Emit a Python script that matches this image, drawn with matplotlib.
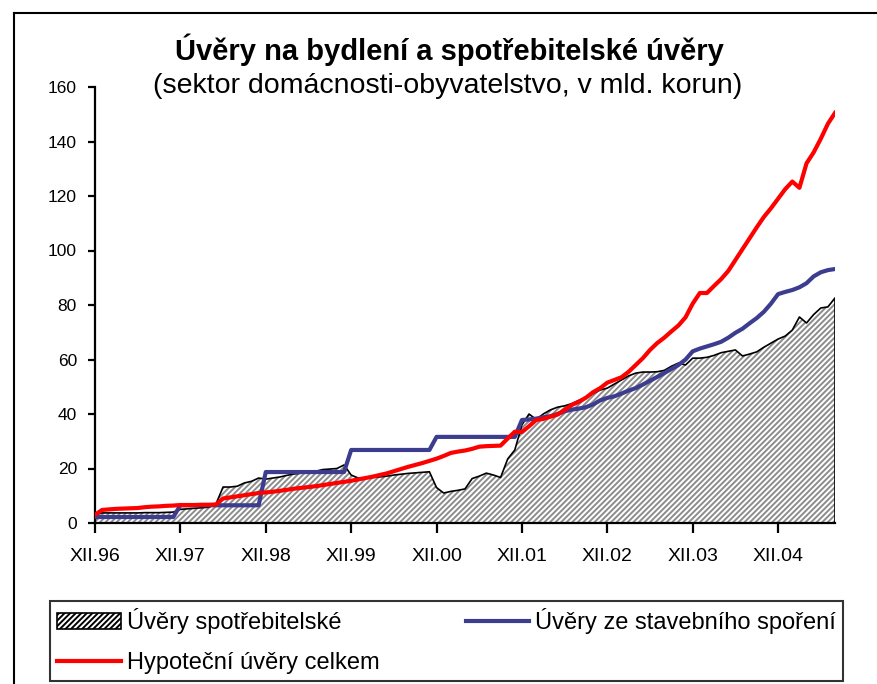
import numpy as np
import matplotlib
matplotlib.use("Agg")
import matplotlib.pyplot as plt
from matplotlib.lines import Line2D
from matplotlib.patches import Patch

plt.rcParams['font.family'] = ['Liberation Sans', 'DejaVu Sans']
plt.rcParams['hatch.linewidth'] = 1.4

# ---- data (mld. Kč, monthly from XII.96) ----
spotrebitelske = [
    3.0, 3.7, 3.7, 3.7, 3.7, 3.7, 3.7, 3.8, 3.8, 3.8, 3.9, 4.0,
    5.0, 5.2, 5.4, 5.6, 5.8, 7.0, 13.2, 13.2, 13.5, 14.7, 15.3, 16.5,
    16.1, 16.5, 16.9, 17.5, 18.0, 18.3, 18.5, 19.0, 19.6, 19.8, 20.0, 21.3,
    17.6, 16.5, 16.5, 16.7, 16.9, 17.2, 17.6, 17.9, 18.2, 18.4, 18.6, 18.8,
    13.0, 11.0, 11.6, 12.0, 12.5, 16.3, 17.2, 18.3, 17.6, 16.7, 23.5, 26.8,
    36.0, 40.0, 38.0, 40.0, 41.5, 42.5, 43.0, 43.8, 45.0, 46.0, 47.5, 48.8,
    49.5, 51.0, 52.5, 54.0, 55.0, 55.4, 55.4, 55.5, 56.0, 57.5, 58.7, 58.0,
    60.5, 60.5, 60.8, 61.5, 62.5, 63.0, 63.5, 61.3, 62.0, 62.8, 64.5, 66.0,
    67.5, 68.6, 70.8, 75.6, 73.4, 76.5, 78.9, 79.3, 82.6,
]
stavebni = [
    2.2, 2.2, 2.2, 2.2, 2.2, 2.2, 2.2, 2.2, 2.2, 2.2, 2.2, 2.2,
    6.5, 6.5, 6.5, 6.5, 6.5, 6.5, 6.5, 6.5, 6.5, 6.5, 6.5, 6.5,
    18.7, 18.7, 18.7, 18.7, 18.7, 18.7, 18.7, 18.7, 18.7, 18.7, 18.7, 18.7,
    26.8, 26.8, 26.8, 26.8, 26.8, 26.8, 26.8, 26.8, 26.8, 26.8, 26.8, 26.8,
    31.6, 31.6, 31.6, 31.6, 31.6, 31.6, 31.6, 31.6, 31.6, 31.6, 31.6, 31.6,
    37.8, 38.0, 38.3, 38.8, 39.2, 40.0, 41.0, 41.6, 42.0, 42.5, 43.5, 45.0,
    45.9, 46.5, 47.5, 48.6, 49.5, 50.8, 52.2, 53.6, 55.0, 56.5, 58.0, 60.0,
    63.0, 64.0, 64.8, 65.6, 66.5, 68.0, 69.8, 71.3, 73.3, 75.2, 77.5, 80.5,
    84.0, 84.8, 85.5, 86.5, 88.0, 90.5, 92.0, 92.8, 93.2,
]
hypotecni = [
    3.0, 4.8, 5.0, 5.2, 5.3, 5.4, 5.5, 5.8, 6.0, 6.1, 6.3, 6.4,
    6.6, 6.6, 6.6, 6.7, 6.7, 6.8, 9.0, 9.4, 9.8, 10.2, 10.6, 11.0,
    11.2, 11.5, 11.8, 12.2, 12.6, 12.9, 13.2, 13.5, 13.9, 14.3, 14.7, 15.1,
    15.5, 16.0, 16.5, 17.0, 17.6, 18.2, 19.0, 19.8, 20.6, 21.3, 22.0, 22.8,
    23.6, 24.6, 25.7, 26.2, 26.6, 27.2, 28.0, 28.2, 28.3, 28.4, 31.0, 33.5,
    33.4, 35.5, 37.8, 38.2, 39.0, 39.8, 41.5, 43.3, 44.5, 46.0, 48.0, 49.5,
    51.5, 52.5, 53.5, 55.5, 58.0, 60.5, 63.5, 66.0, 68.0, 70.3, 72.5, 75.5,
    80.5, 84.4, 84.4, 87.0, 89.5, 92.5, 96.5, 100.5, 104.5, 108.5, 112.3, 115.5,
    119.0, 122.5, 125.3, 123.0, 132.0, 136.0, 141.0, 146.5, 150.5,
]
tick_labels = ['XII.96', 'XII.97', 'XII.98', 'XII.99', 'XII.00',
               'XII.01', 'XII.02', 'XII.03', 'XII.04']

x = np.arange(len(spotrebitelske))
spotr = np.array(spotrebitelske)

fig = plt.figure(figsize=(8.77, 6.84), dpi=100)
ax = fig.add_axes([95 / 877, 1 - 523 / 684, 740 / 877, 436 / 684])

# plocha se šrafováním
ax.fill_between(x, 0, spotr, facecolor='white', edgecolor='#8c8c8c',
                hatch='//////', linewidth=0, zorder=1)
ax.plot(np.append(x, x[-1]), np.append(spotr, 0), color='black', lw=1.2, zorder=2)

ax.plot(x, stavebni, color='#3d3d8f', lw=3.0, zorder=3)
ax.plot(x, hypotecni, color='#ff0000', lw=3.0, zorder=4)

ax.set_xlim(0, len(x) - 1)
ax.set_ylim(0, 160)
ax.set_yticks(range(0, 161, 20))
ax.set_xticks(np.arange(len(tick_labels)) * 12)
ax.set_xticklabels(tick_labels)

for s in ['top', 'right']:
    ax.spines[s].set_visible(False)
for s in ['left', 'bottom']:
    ax.spines[s].set_linewidth(1.6)
ax.tick_params(axis='y', direction='out', length=5, width=1.6, pad=8, labelsize=12.5)
ax.tick_params(axis='x', direction='out', length=7, width=1.6, pad=11, labelsize=14)

fig.text(0.513, 1 - 50 / 684, 'Úvěry na bydlení a spotřebitelské úvěry',
         ha='center', va='center', fontsize=21, fontweight='bold')
fig.text(0.510, 1 - 86 / 684, '(sektor domácnosti-obyvatelstvo, v mld. korun)',
         ha='center', va='center', fontsize=20.5)

handles = [
    Patch(facecolor='white', edgecolor='black', hatch='//////', linewidth=1.2,
          label='Úvěry spotřebitelské'),
    Line2D([], [], color='#ff0000', lw=3, label='Hypoteční úvěry celkem'),
    Line2D([], [], color='#3d3d8f', lw=3, label='Úvěry ze stavebního spoření'),
]
leg = fig.legend(handles=handles, loc='lower left', ncol=2, mode='expand',
                 bbox_to_anchor=(50 / 877, 3 / 684, 793 / 877, 82 / 684),
                 fontsize=17, frameon=True, fancybox=False, edgecolor='black',
                 handlelength=2.7, handletextpad=0.25, borderaxespad=0,
                 labelspacing=0.75, borderpad=0.3)
leg.get_frame().set_linewidth(1.5)

# rám grafu
fig.add_artist(Line2D([14 / 877, 14 / 877], [0, 1 - 13 / 684], color='black', lw=1.5))
fig.add_artist(Line2D([14 / 877, 1], [1 - 13 / 684, 1 - 13 / 684], color='black', lw=1.5))

fig.savefig('out.png', dpi=100)
